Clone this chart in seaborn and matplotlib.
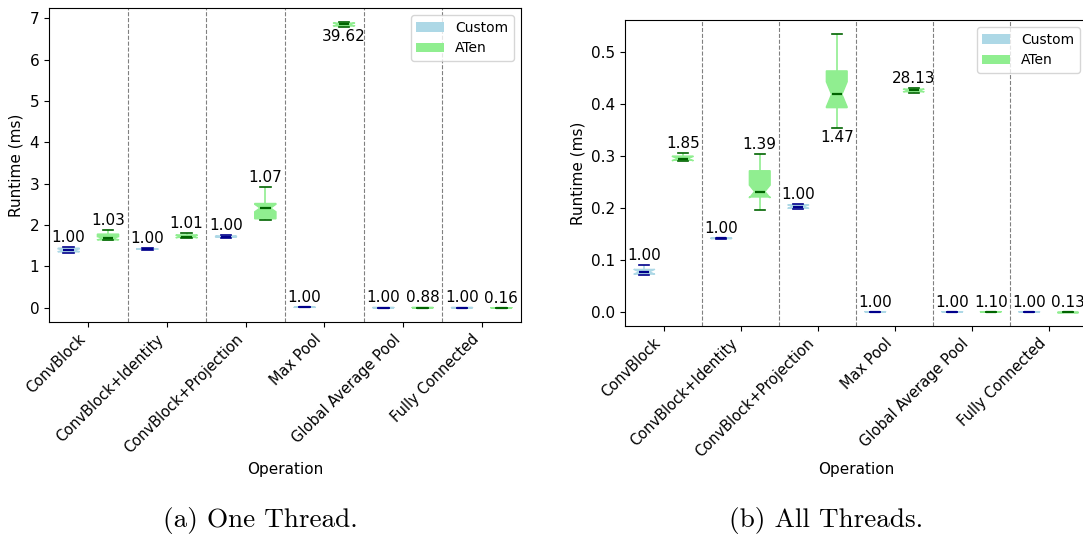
import numpy as np
import pandas as pd
import matplotlib
matplotlib.use("Agg")
import matplotlib.pyplot as plt
from matplotlib import cbook
from matplotlib.patches import Patch
import seaborn as sns

categories = ["ConvBlock", "ConvBlock+Identity", "ConvBlock+Projection",
              "Max Pool", "Global Average Pool", "Fully Connected"]
impls = ["Custom", "ATen"]

# (a) One thread: runtime samples (ms) per operation
one_custom = [
    [1.335, 1.338, 1.342, 1.346, 1.350, 1.358, 1.366, 1.378, 1.390,
     1.398, 1.407, 1.418, 1.440, 1.446, 1.451, 1.457, 1.464],
    [1.40, 1.41, 1.415, 1.418, 1.42, 1.423, 1.428, 1.435, 1.44],
    [1.69, 1.70, 1.71, 1.715, 1.72, 1.725, 1.73, 1.74, 1.75],
    [0.008, 0.009, 0.010, 0.010, 0.011, 0.011, 0.012, 0.013, 0.014],
    [0.002, 0.0022, 0.0025, 0.0027, 0.003, 0.0032, 0.0035, 0.0037, 0.004],
    [0.002, 0.0022, 0.0025, 0.0027, 0.003, 0.0032, 0.0035, 0.0037, 0.004],
]
one_aten = [
    [1.630, 1.632, 1.633, 1.634, 1.635, 1.636, 1.637, 1.638, 1.640,
     1.643, 1.646, 1.651, 1.654, 1.660, 1.665, 1.673, 1.680,
     1.689, 1.697, 1.706, 1.718, 1.728, 1.744, 1.761, 1.780,
     1.791, 1.799, 1.811, 1.820, 1.833, 1.842, 1.856, 1.870],
    [1.675, 1.68, 1.70, 1.71, 1.72, 1.73, 1.76, 1.78, 1.80],
    [2.110, 2.115, 2.117, 2.123, 2.126, 2.131, 2.133, 2.139, 2.142, 2.147, 2.150,
     2.172, 2.193, 2.221, 2.248, 2.282, 2.309, 2.342, 2.363, 2.391, 2.410,
     2.426, 2.437, 2.451, 2.461, 2.473, 2.481, 2.493, 2.501, 2.512, 2.520,
     2.562, 2.598, 2.641, 2.679, 2.722, 2.758, 2.801, 2.839, 2.882, 2.920],
    [6.78, 6.79, 6.81, 6.83, 6.85, 6.86, 6.88, 6.89, 6.90],
    [0.002, 0.0022, 0.0025, 0.0027, 0.003, 0.0032, 0.0035, 0.0037, 0.004],
    [0.0003, 0.0004, 0.0004, 0.0005, 0.0005, 0.0005, 0.0006, 0.0006, 0.0007],
]
one_custom_labels = ["1.00", "1.00", "1.00", "1.00", "1.00", "1.00"]
one_aten_labels = ["1.03", "1.01", "1.07", "39.62", "0.88", "0.16"]

# (b) All threads: runtime samples (ms) per operation
all_custom = [
    [0.0705, 0.072, 0.073, 0.075, 0.0775, 0.080, 0.082, 0.086, 0.090],
    [0.1405, 0.141, 0.1412, 0.1415, 0.1418, 0.142, 0.1423, 0.1427, 0.143],
    [0.1985, 0.199, 0.1995, 0.201, 0.2025, 0.204, 0.206, 0.2065, 0.207],
    [0.0006, 0.0007, 0.0007, 0.0008, 0.0008, 0.0008, 0.0009, 0.0009, 0.0010],
    [0.0005, 0.0005, 0.0006, 0.0006, 0.0006, 0.0006, 0.0007, 0.0007, 0.0007],
    [0.0004, 0.0004, 0.0005, 0.0005, 0.0005, 0.0005, 0.0006, 0.0006, 0.0006],
]
all_aten = [
    [0.290, 0.2905, 0.2915, 0.293, 0.2945, 0.297, 0.2995, 0.302, 0.305],
    [0.196, 0.199, 0.203, 0.206, 0.209, 0.212, 0.214, 0.216, 0.218, 0.2195, 0.221,
     0.2218, 0.2225, 0.2234, 0.2243, 0.2252, 0.2262, 0.2275, 0.2288, 0.2301, 0.2315,
     0.234, 0.237, 0.241, 0.245, 0.249, 0.254, 0.258, 0.263, 0.267, 0.2714,
     0.275, 0.279, 0.282, 0.286, 0.289, 0.292, 0.295, 0.298, 0.301, 0.3035],
    [0.354, 0.365, 0.374, 0.381, 0.387, 0.3925, 0.397, 0.402, 0.407, 0.413,
     0.418, 0.425, 0.432, 0.440, 0.450, 0.463, 0.475, 0.487, 0.500, 0.516,
     0.534],
    [0.421, 0.422, 0.423, 0.424, 0.4255, 0.427, 0.428, 0.429, 0.430],
    [0.0005, 0.0005, 0.0006, 0.0006, 0.0006, 0.0006, 0.0007, 0.0007, 0.0007],
    [0.0001, 0.0001, 0.0001, 0.0001, 0.0001, 0.0001, 0.0001, 0.0001, 0.0001],
]
all_custom_labels = ["1.00", "1.00", "1.00", "1.00", "1.00", "1.00"]
all_aten_labels = ["1.85", "1.39", "1.47", "28.13", "1.10", "0.13"]

captions = ["(a) One Thread.", "(b) All Threads."]

styles = {
    "Custom": dict(face="lightblue", med="darkblue"),
    "ATen": dict(face="lightgreen", med="darkgreen"),
}

FS = 11


def long_frame(custom, aten):
    rows = []
    for impl, groups in (("Custom", custom), ("ATen", aten)):
        for cat, vals in zip(categories, groups):
            for v in vals:
                rows.append({"Operation": cat, "Impl": impl, "Runtime (ms)": v})
    return pd.DataFrame(rows)


def draw(ax, custom, aten, clabels, alabels, xlabelpad):
    df = long_frame(custom, aten)
    for impl in impls:
        st = styles[impl]
        sns.boxplot(data=df[df["Impl"] == impl], x="Operation", y="Runtime (ms)",
                    hue="Impl", order=categories, hue_order=impls, dodge=True,
                    palette={k: styles[k]["face"] for k in impls}, saturation=1,
                    width=1.0, gap=0.46, notch=True, showfliers=False,
                    linecolor=st["face"],
                    boxprops=dict(edgecolor=st["face"], linewidth=1),
                    whiskerprops=dict(color=st["face"], linewidth=1.2),
                    capprops=dict(color=st["med"], linewidth=1.2),
                    medianprops=dict(color=st["med"], linewidth=1.6),
                    legend=False, ax=ax)
    for b in np.arange(0.5, len(categories) - 0.5, 1.0):
        ax.axvline(b, color="gray", linestyle="--", linewidth=0.8, zorder=0)

    stats = {impl: [cbook.boxplot_stats(np.asarray(v))[0] for v in groups]
             for impl, groups in (("Custom", custom), ("ATen", aten))}
    top = max(s["whishi"] for impl in impls for s in stats[impl])
    offsets = {"Custom": -0.25, "ATen": 0.25}
    labels = {"Custom": clabels, "ATen": alabels}
    for impl in impls:
        for i, s in enumerate(stats[impl]):
            x = i + offsets[impl]
            if s["whishi"] >= top:
                ax.annotate(labels[impl][i], (x, s["whislo"]), xytext=(0, -1.5),
                            textcoords="offset points", ha="center", va="top",
                            fontsize=FS)
            else:
                ax.annotate(labels[impl][i], (x, s["whishi"]), xytext=(0, 1.5),
                            textcoords="offset points", ha="center", va="bottom",
                            fontsize=FS)
    ax.set_xticks(range(len(categories)))
    ax.set_xticklabels(categories, rotation=45, ha="right", fontsize=10.5)
    ax.tick_params(axis="y", labelsize=FS)
    ax.set_xlim(-0.5, len(categories) - 0.5)
    ax.set_xlabel("Operation", fontsize=FS, labelpad=xlabelpad)
    ax.set_ylabel("Runtime (ms)", fontsize=FS)
    handles = [Patch(facecolor=styles[k]["face"], edgecolor="none", label=k)
               for k in impls]
    ax.legend(handles=handles, loc="upper right", fontsize=10)


fig = plt.figure(figsize=(10.83, 5.37), dpi=100)
W, H = 1083, 537
axA = fig.add_axes([49 / W, (H - 322) / H, 472 / W, 314 / H])
axB = fig.add_axes([625 / W, (H - 326) / H, 462 / W, 306 / H])

draw(axA, one_custom, one_aten, one_custom_labels, one_aten_labels, 4)
draw(axB, all_custom, all_aten, all_custom_labels, all_aten_labels, 1.5)

fig.text(260 / W, (H - 520) / H, captions[0], ha="center", va="center",
         fontsize=19.6, fontfamily="cmr10")
fig.text(826 / W, (H - 520) / H, captions[1], ha="center", va="center",
         fontsize=19.6, fontfamily="cmr10")

fig.savefig("out.png", dpi=100)
